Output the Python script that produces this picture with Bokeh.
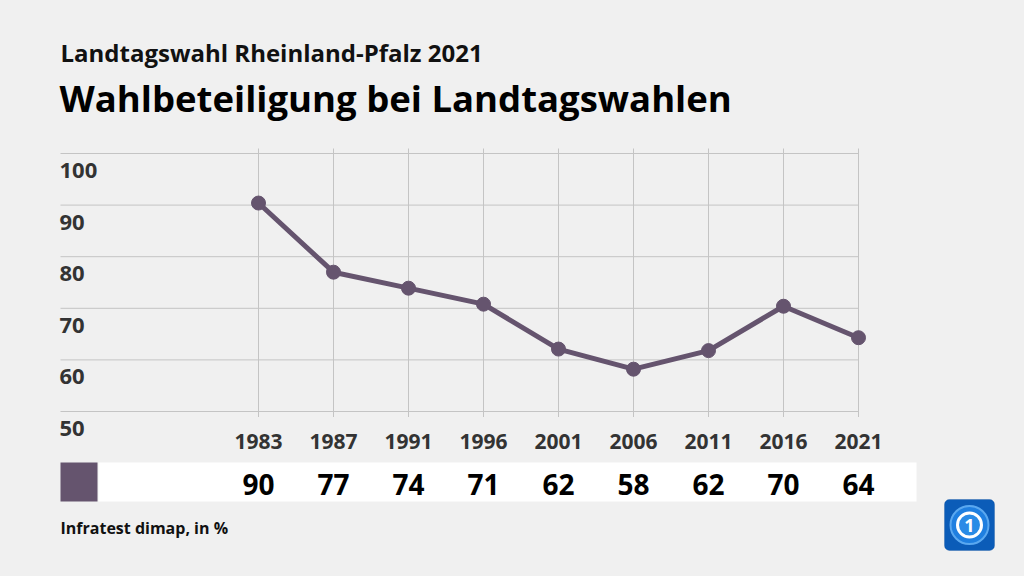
from bokeh.plotting import figure
from bokeh.models import Range1d, BoxAnnotation
from bokeh.core.properties import value
from bokeh.embed import file_html
from bokeh.resources import INLINE

# ---- data ----
years = ["1983", "1987", "1991", "1996", "2001", "2006", "2011", "2016", "2021"]
turnout = [90.4, 77.0, 73.9, 70.8, 62.1, 58.2, 61.8, 70.4, 64.3]
y_ticks = [50, 60, 70, 80, 90, 100]
subtitle = "Landtagswahl Rheinland-Pfalz 2021"
title = "Wahlbeteiligung bei Landtagswahlen"
source = "Infratest dimap, in %"

idx = list(range(len(years)))
value_labels = [f"{v:.0f}" for v in turnout]
tick_labels = [str(t) for t in y_ticks]

# ---- layout helpers (screen px -> data units) ----
X0, XS = 258.0, 75.0     # screen x of first category, px per category
Y50, YS = 411.0, 5.16    # screen y of value 50, px per unit


def dx(X):
    return (X - X0) / XS


def dy(Y):
    return 50 + (Y50 - Y) / YS


FONT = value("Open Sans")
BG = "#f0f0f0"
PURPLE = "#65546e"
GRID = "#c4c4c4"

p = figure(width=1024, height=576, output_backend="svg", toolbar_location=None,
           x_axis_type=None, y_axis_type=None,
           x_range=Range1d(dx(0), dx(1024)), y_range=Range1d(dy(576), dy(0)),
           min_border=0, background_fill_color=BG, border_fill_color=BG,
           outline_line_color=None)

# grid lines
p.segment(x0=[dx(60)] * len(y_ticks), x1=[idx[-1]] * len(y_ticks), y0=y_ticks, y1=y_ticks,
          line_color=GRID, line_width=1)
p.segment(x0=idx, x1=idx, y0=[dy(416.5)] * len(idx), y1=[dy(148)] * len(idx),
          line_color=GRID, line_width=1)

# y tick labels (drawn under each gridline)
p.text(x=[dx(59)] * len(y_ticks), y=[t - 17 / YS for t in y_ticks], text=tick_labels,
       text_font=FONT, text_font_style="bold", text_font_size="22px",
       text_color="#333333", text_align="left", text_baseline="middle")

# data line
p.line(idx, turnout, line_width=5, line_color=PURPLE)
p.scatter(idx, turnout, size=14, fill_color=PURPLE, line_color=PURPLE)

# year labels
p.text(x=idx, y=[dy(441)] * len(idx), text=years, text_font=FONT,
       text_font_style="bold", text_font_size="21px", text_color="#333333",
       text_align="center", text_baseline="middle")

# value row
p.add_layout(BoxAnnotation(left=dx(98), right=dx(916), top=dy(462), bottom=dy(501),
                           fill_color="white", fill_alpha=1, line_color=None, level="underlay"))
p.add_layout(BoxAnnotation(left=dx(60), right=dx(97), top=dy(462), bottom=dy(501),
                           fill_color=PURPLE, fill_alpha=1, line_color=None, level="underlay"))
p.text(x=idx, y=[dy(483.5)] * len(idx), text=value_labels, text_font=FONT,
       text_font_style="bold", text_font_size="28px", text_color="#000000",
       text_align="center", text_baseline="middle")

# titles and source
p.text(x=[dx(60)], y=[dy(52)], text=[subtitle], text_font=FONT, text_font_style="bold",
       text_font_size="24px", text_color="#111111", text_baseline="middle")
p.text(x=[dx(59)], y=[dy(97.5)], text=[title], text_font=FONT, text_font_style="bold",
       text_font_size="36.5px", text_color="#000000", text_baseline="middle")
p.text(x=[dx(60)], y=[dy(527.5)], text=[source], text_font=FONT, text_font_style="bold",
       text_font_size="16px", text_color="#111111", text_baseline="middle")

# logo
p.add_layout(BoxAnnotation(left=dx(944), right=dx(994), top=dy(499), bottom=dy(550),
                           fill_color="#0b5cb8", fill_alpha=1, line_color="#084a99",
                           border_radius=5, level="underlay"))
p.scatter([dx(969)], [dy(524.5)], size=38, fill_color="#1f7fe0", line_color="#5aa8f0",
          line_width=2)
p.scatter([dx(969)], [dy(524.5)], size=24, fill_color="#2a8be6", line_color="white",
          line_width=3)
p.text(x=[dx(969)], y=[dy(524.5)], text=["1"], text_font=FONT, text_font_style="bold",
       text_font_size="18px", text_color="white", text_align="center",
       text_baseline="middle")

html = file_html(p, INLINE)
html = html.replace("</head>", "<style>html,body{background:#f0f0f0;}</style></head>", 1)
open("out.html", "w").write(html)
